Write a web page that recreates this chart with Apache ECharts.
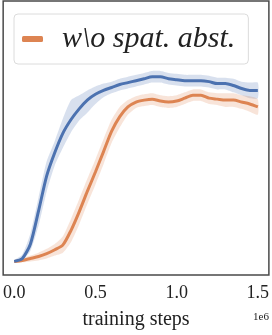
<!DOCTYPE html>
<html><head><meta charset="utf-8">
<script src="https://cdn.jsdelivr.net/npm/echarts@6/dist/echarts.min.js"></script>
<style>html,body{margin:0;padding:0;background:#fff}#c{width:272px;height:335px}</style>
</head><body><div id="c"></div>
<script>
// training steps (in units of 1e6)
const steps = [0,0.05,0.1,0.15,0.2,0.25,0.3,0.35,0.4,0.45,0.5,0.55,0.6,0.65,0.7,0.75,0.8,0.85,0.9,0.95,1.0,1.05,1.1,1.15,1.2,1.25,1.3,1.35,1.4,1.45,1.5];
// full method (blue)
const fullMean = [14,17,32,66,102,126,146,160,171,180,186,190,193,196,198,200,202,204,204,202,201,200,200,200,199,197,197,195,192,190,190];
const fullHigh = [15,21,43,80,117,138,161,180,185,190,194,197,199,202,204,206,208,210,210,208,207,206,206,206,205,203,203,202,199,198,198];
const fullLow  = [13,15,25,51,86,113,131,147,159,167,176,183,187,190,192,194,196,198,198,196,195,194,194,194,193,191,191,188,185,182,182];
// w\o spat. abst. (orange)
const ablMean = [14,15,17,19,22,26,31,46,65,86,106,127,148,163,173,178,180,181,179,178,179,182,185,185,182,181,180,180,178,176,173];
const ablHigh = [15,17,20,23,27,32,40,58,78,99,119,140,160,173,180,184,186,187,185,184,185,188,191,191,188,187,187,187,185,184,181];
const ablLow  = [13,13,14,15,17,20,23,34,52,73,93,114,136,152,165,172,174,175,173,172,173,176,179,179,176,175,173,173,171,168,165];
const xTicks = [0,0.5,1.0,1.5];
const legendName = 'w\\o spat. abst.';

const BLUE = '#4C72B0', ORANGE = '#DD8452';
const pair = (ys) => steps.map((x,i)=>[x, ys[i]]);

function band(lo, hi, color) {
  return {
    type:'custom', silent:true, z:1, clip:true,
    data:[[steps[0], lo[0]]],
    renderItem:(params, api) => {
      const pts = [];
      for (let i=0;i<steps.length;i++) pts.push(api.coord([steps[i], hi[i]]));
      for (let i=steps.length-1;i>=0;i--) pts.push(api.coord([steps[i], lo[i]]));
      return {type:'polygon', shape:{points:pts, smooth:0.2}, style:{fill:color, opacity:0.22}};
    }
  };
}

const chart = echarts.init(document.getElementById('c'), null, {renderer:'canvas'});
chart.setOption({
  animation:false,
  backgroundColor:'#fff',
  grid:{left:1, right:2, top:1, bottom:52, show:true, borderColor:'#4a4a4a', borderWidth:1.5, backgroundColor:'transparent'},
  xAxis:{type:'value', min:-0.068, max:1.568,
    axisLine:{show:false}, axisTick:{show:false}, splitLine:{show:false},
    axisLabel:{customValues:xTicks, formatter:(v)=>v.toFixed(1), margin:9,
      fontFamily:'Liberation Serif', fontSize:18, color:'#222'},
    name:'training steps', nameLocation:'middle', nameGap:35,
    nameTextStyle:{fontFamily:'Liberation Serif', fontSize:20, color:'#222'}},
  yAxis:{type:'value', min:0, max:282, show:false, splitLine:{show:false}},
  legend:{data:[{name:legendName, icon:'roundRect'}], left:14, top:14,
    itemWidth:21, itemHeight:6, padding:[10,13,10,8],
    backgroundColor:'#fff', borderColor:'#dcdcdc', borderWidth:1, borderRadius:4,
    textStyle:{fontFamily:'Liberation Serif', fontStyle:'italic', fontSize:30, color:'#222', padding:[0,0,0,14]}},
  graphic:[{type:'text', right:3, top:312, style:{text:'1e6', font:'11px "Liberation Serif"', fill:'#222'}}],
  series:[
    band(fullLow, fullHigh, BLUE),
    band(ablLow, ablHigh, ORANGE),
    {type:'line', name:legendName, data:pair(ablMean), symbol:'none', color:ORANGE, smooth:0.25,
     lineStyle:{width:3, color:ORANGE}, z:3},
    {type:'line', name:'full', data:pair(fullMean), symbol:'none', color:BLUE, smooth:0.25,
     lineStyle:{width:3, color:BLUE}, z:4}
  ]
});
</script></body></html>
